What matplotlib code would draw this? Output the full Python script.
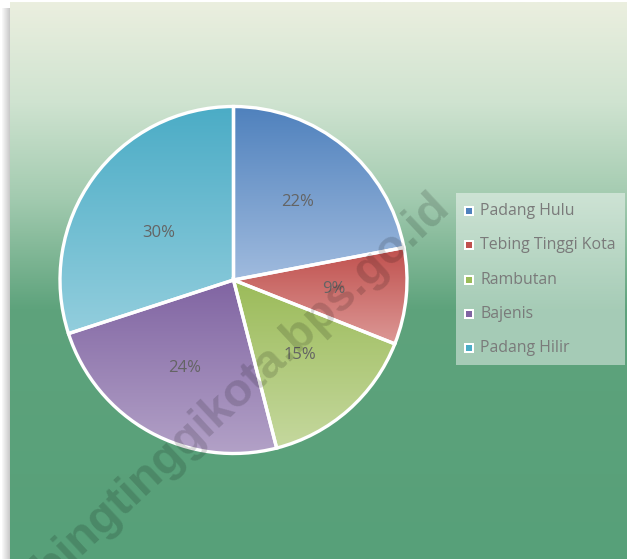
import numpy as np
import matplotlib
matplotlib.use('Agg')
import matplotlib.pyplot as plt
from matplotlib.colors import LinearSegmentedColormap
from matplotlib.patches import Rectangle

# data
labels = ['Padang Hulu', 'Tebing Tinggi Kota', 'Rambutan', 'Bajenis', 'Padang Hilir']
values = [22, 9, 15, 24, 30]
top_colors = ['#4f81bd', '#c0504d', '#9bbb59', '#8064a2', '#4bacc6']
bottom_colors = ['#a0bbde', '#dc9896', '#c5d89e', '#b4a3c8', '#93cedd']
watermark = 'tebingtinggikota.bps.go.id'

W, H = 627, 559
fig = plt.figure(figsize=(W / 100, H / 100), dpi=100)
fig.patch.set_facecolor('white')

# background panel with vertical gradient
bg = fig.add_axes([0, 0, 1, 1])
bg.set_xlim(0, W)
bg.set_ylim(H, 0)
bg.axis('off')
bg_cmap = LinearSegmentedColormap.from_list('bg', [
    (0.0, '#ebefdf'), (0.18, '#cfe3d0'), (0.35, '#a3cbb0'),
    (0.55, '#5ea37c'), (1.0, '#57a079')])
grad = np.linspace(0, 1, 256).reshape(-1, 1)
bg.imshow(grad, cmap=bg_cmap, aspect='auto', extent=[10, W, H, 2], zorder=1)
# left shadow
for i in range(8):
    bg.add_patch(Rectangle((2 + i, 8), 1, H, color='#808080',
                           alpha=0.06 + 0.05 * i, lw=0, zorder=0))

# pie
cx, cy, r = 233.5, 280, 173.5
s = 2 * r * 1.1
ax = fig.add_axes([(cx - s / 2) / W, (H - cy - s / 2) / H, s / W, s / H])
ax.set_xlim(-1.1, 1.1)
ax.set_ylim(-1.1, 1.1)
ax.axis('off')

wedges, texts, autotexts = ax.pie(
    values, startangle=90, counterclock=False, radius=1,
    autopct='%1.0f%%', pctdistance=0.58,
    wedgeprops=dict(facecolor='none', edgecolor='white', linewidth=2.4),
    textprops=dict(color='#646464', fontsize=12, family='Open Sans'))

for w, c1, c2 in zip(wedges, top_colors, bottom_colors):
    w.set_zorder(3)
    verts = w.get_path().vertices
    x0, x1 = verts[:, 0].min(), verts[:, 0].max()
    y0, y1 = verts[:, 1].min(), verts[:, 1].max()
    cm = LinearSegmentedColormap.from_list('g', [c1, c2])
    im = ax.imshow(grad, cmap=cm, aspect='auto', extent=[x0, x1, y0, y1],
                   zorder=2, interpolation='bilinear')
    im.set_clip_path(w)
for t in autotexts:
    t.set_zorder(4)
# nudge the 30% label towards where Excel put it
autotexts[4].set_position((autotexts[4].get_position()[0] + 0.04,
                           autotexts[4].get_position()[1] - 0.07))
ax.set_xlim(-1.1, 1.1)
ax.set_ylim(-1.1, 1.1)

# legend
lx, ly, lw_, lh = 456, 193, 169, 172
bg.add_patch(Rectangle((lx, ly), lw_, lh, facecolor='white', alpha=0.45,
                       lw=0, zorder=5))
for i, (lab, c1) in enumerate(zip(labels, top_colors)):
    yy = 211 + i * 34.3
    bg.add_patch(Rectangle((464, yy - 5), 10, 10, facecolor='white',
                           edgecolor='none', zorder=6))
    bg.add_patch(Rectangle((466, yy - 3), 6, 6, facecolor=c1,
                           edgecolor='none', zorder=7))
    bg.text(480, yy, lab, fontsize=11.4, family='Open Sans', color='#7a7a7a',
            va='center', ha='left', zorder=7)

# watermark, on top of everything
fig.text(227 / W, 1 - 403 / H, watermark, fontsize=34, fontweight='bold',
         family='Liberation Sans', color='black', alpha=0.15, rotation=43,
         rotation_mode='anchor', ha='center', va='center', zorder=10)

fig.savefig('out.png', dpi=100)
